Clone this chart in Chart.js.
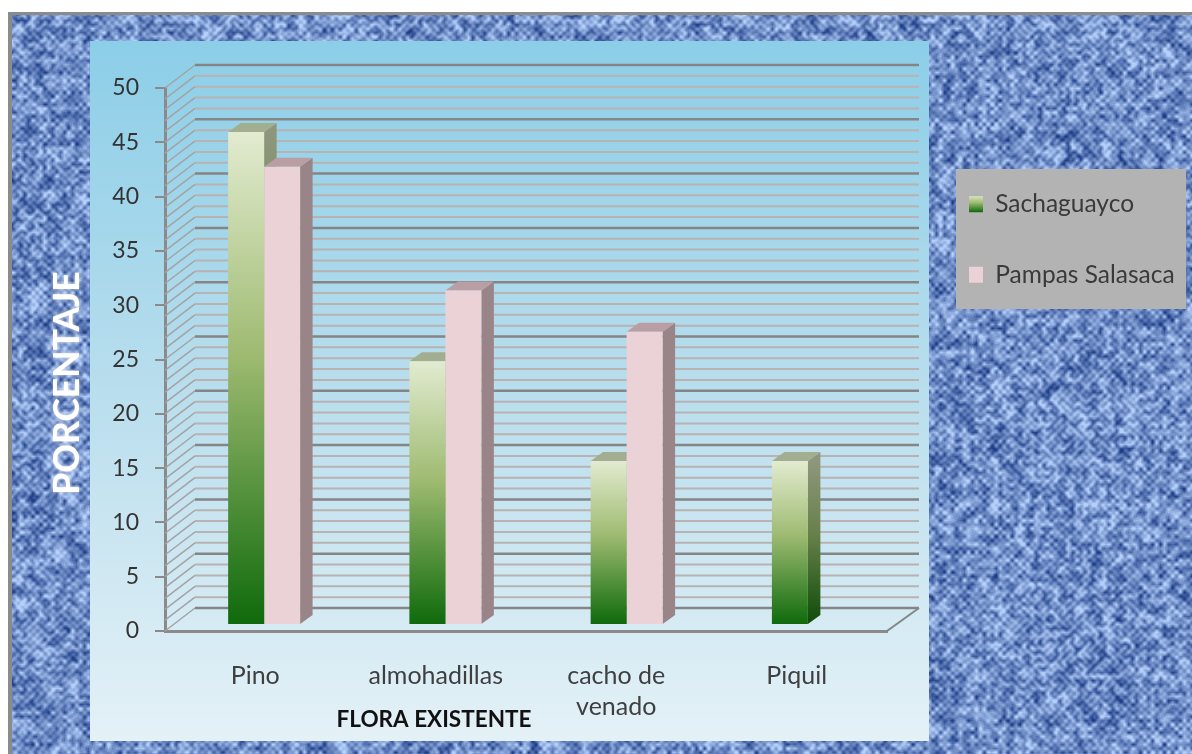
<!DOCTYPE html>
<html>
<head>
<meta charset="utf-8">
<title>Flora existente</title>
<script src="https://cdn.jsdelivr.net/npm/chart.js@4"></script>
<style>
  html, body { margin: 0; padding: 0; background: #fff; }
  canvas { display: block; }
</style>
</head>
<body>
<canvas id="chart" width="1192" height="754"></canvas>
<script>
const categories = ["Pino", "almohadillas", ["cacho de", "venado"], "Piquil"];
const sachaguayco = [45.3, 24.2, 15.0, 15.0];
const pampasSalasaca = [42.1, 30.7, 26.9, 0];
const yTicksStep = 5;

const FONT = "Lato";

// tela azul de fondo, ruido fijo (sin Math.random)
function hash(x, y) {
  const s = Math.sin(x * 127.1 + y * 311.7) * 43758.5453;
  return s - Math.floor(s);
}
function smooth(x, y, cell) {
  const fx = x / cell, fy = y / cell;
  const ix = Math.floor(fx), iy = Math.floor(fy);
  const tx = fx - ix, ty = fy - iy;
  const a = hash(ix, iy), b = hash(ix + 1, iy);
  const c = hash(ix, iy + 1), d = hash(ix + 1, iy + 1);
  return (a * (1 - tx) + b * tx) * (1 - ty) + (c * (1 - tx) + d * tx) * ty;
}
function makeTexture(w, h) {
  const off = document.createElement("canvas");
  off.width = w;
  off.height = h;
  const c = off.getContext("2d");
  const img = c.createImageData(w, h);
  for (let y = 0; y < h; y++) {
    for (let x = 0; x < w; x++) {
      const weave = Math.sin(x * 0.8) * Math.sin(y * 0.8) * 0.16;
      const spot = Math.pow(Math.max(0, Math.sin(x * 0.15) * Math.sin(y * 0.15)), 6) * 0.18;
      let n = 0.56 + (smooth(x, y, 4) - 0.5) * 0.85 + (smooth(x + 50, y + 90, 9) - 0.5) * 0.35 + weave - spot;
      n = Math.max(0, Math.min(1, n));
      const i = (y * w + x) * 4;
      img.data[i] = 30 + n * 150;
      img.data[i + 1] = 62 + n * 145;
      img.data[i + 2] = 135 + n * 115;
      img.data[i + 3] = 255;
    }
  }
  c.putImageData(img, 0, 0);
  return off;
}
const texture = makeTexture(1192, 754);

// planos del grafico en 3D
const DEPTH_X = 30, DEPTH_Y = 23;   // pared del fondo
const BAR_DX = 12.5, BAR_DY = 9;    // profundidad de cada barra
const BAR_SHIFT_X = 8.5, BAR_SHIFT_Y = 7;

function greenGradient(ctx, top, bottom) {
  const g = ctx.createLinearGradient(0, top, 0, bottom);
  g.addColorStop(0, "#e2ebd0");
  g.addColorStop(0.45, "#9fbb72");
  g.addColorStop(1, "#0f6a0c");
  return g;
}

const scene = {
  id: "scene",
  beforeLayout(chart) {
    const legend = chart.legend;
    if (legend.fit.patched) return;
    const fit = legend.fit;
    legend.fit = function () {
      fit.call(this);
      this.width = 305;
    };
    legend.fit.patched = true;
  },
  afterLayout(chart) {
    // las barras quedan a media profundidad, no en el plano del eje
    const xb = chart.scales.xBars, yb = chart.scales.yBars;
    xb.left += BAR_SHIFT_X;
    xb.right += BAR_SHIFT_X + 3;
    xb.configure();
    yb.top -= BAR_SHIFT_Y;
    yb.bottom -= BAR_SHIFT_Y;
    yb.configure();
    const pad = chart.legend.options.labels.padding;
    chart.legend.left = 969 - pad;
    chart.legend.top = 195 - pad - 3;
    chart.legend.right = 1186;
  },
  beforeDraw(chart) {
    const c = chart.ctx;
    c.save();
    c.fillStyle = "#fff";
    c.fillRect(0, 0, 1192, 754);
    c.fillStyle = "#8b8b8b";
    c.fillRect(8, 12, 1184, 742);
    c.drawImage(texture, 12, 15, 1180, 739, 12, 15, 1180, 739);
    const g = c.createLinearGradient(0, 41, 0, 741);
    g.addColorStop(0, "#8ccee8");
    g.addColorStop(0.5, "#b9deed");
    g.addColorStop(1, "#e4f1f7");
    c.fillStyle = g;
    c.fillRect(90, 41, 839, 700);
    c.fillStyle = "#b3b3b3";
    c.fillRect(956, 169, 230, 140);
    c.restore();
  },
  beforeDatasetsDraw(chart) {
    const c = chart.ctx;
    const { x, y } = chart.scales;
    const x0 = x.left, x1 = x.right;
    c.save();
    // lineas de la pared izquierda y del fondo, tomadas de la escala
    for (let v = y.max; v >= y.min; v--) {
      const py = y.getPixelForValue(v);
      const major = v % yTicksStep === 0;
      c.beginPath();
      c.moveTo(x0, py);
      c.lineTo(x0 + DEPTH_X, py - DEPTH_Y);
      c.strokeStyle = "#a3a3a3";
      c.lineWidth = 1.5;
      c.stroke();
      c.beginPath();
      c.moveTo(x0 + DEPTH_X, py - DEPTH_Y);
      c.lineTo(x1 + DEPTH_X + 2, py - DEPTH_Y);
      c.strokeStyle = major ? "#858585" : "#b8b2b0";
      c.lineWidth = major ? 2.5 : 2;
      c.stroke();
    }
    // piso
    const p0 = y.getPixelForValue(0);
    c.beginPath();
    c.moveTo(x1, p0);
    c.lineTo(x1 + DEPTH_X + 2, p0 - DEPTH_Y);
    c.strokeStyle = "#858585";
    c.lineWidth = 2;
    c.stroke();

    // caras laterales y superiores de las barras
    chart.data.datasets.forEach((ds, di) => {
      chart.getDatasetMeta(di).data.forEach((bar, i) => {
        if (!ds.data[i]) return;
        const { x: cx, y: top, base, width } = bar.getProps(["x", "y", "base", "width"], true);
        const r = cx + width / 2, l = cx - width / 2;
        let side = ds.sideColor;
        if (di === 0) {
          side = c.createLinearGradient(0, top, 0, base);
          side.addColorStop(0, "#8e977d");
          side.addColorStop(0.45, "#67804a");
          side.addColorStop(1, "#0e4c09");
        }
        c.fillStyle = side;
        c.beginPath();
        c.moveTo(r, top);
        c.lineTo(r + BAR_DX, top - BAR_DY);
        c.lineTo(r + BAR_DX, base - BAR_DY);
        c.lineTo(r, base);
        c.closePath();
        c.fill();
        c.fillStyle = ds.topColor;
        c.beginPath();
        c.moveTo(l, top);
        c.lineTo(l + BAR_DX, top - BAR_DY);
        c.lineTo(r + BAR_DX, top - BAR_DY);
        c.lineTo(r, top);
        c.closePath();
        c.fill();
      });
    });
    c.restore();
  },
  afterDraw(chart) {
    const c = chart.ctx;
    c.save();
    c.textAlign = "center";
    c.textBaseline = "middle";
    c.fillStyle = "#111";
    c.font = "bold 22.5px " + FONT;
    c.fillText("FLORA EXISTENTE", 434, 720);
    c.translate(68, 383);
    c.rotate(-Math.PI / 2);
    c.font = "bold 35.5px " + FONT;
    c.shadowColor = "rgba(255,255,255,0.8)";
    c.shadowBlur = 4;
    c.fillStyle = "#fff";
    c.fillText("PORCENTAJE", 0, 0);
    c.restore();
  }
};

const ctx = document.getElementById("chart").getContext("2d");

new Chart(ctx, {
  type: "bar",
  data: {
    labels: categories,
    datasets: [
      {
        label: "Sachaguayco",
        data: sachaguayco,
        xAxisID: "xBars",
        yAxisID: "yBars",
        topColor: "#a3ad90",
        backgroundColor(context) {
          if (context.dataIndex === undefined) return "#5d9a45";
          const s = context.chart.scales.yBars;
          return greenGradient(context.chart.ctx, s.getPixelForValue(sachaguayco[context.dataIndex]), s.getPixelForValue(0));
        }
      },
      {
        label: "Pampas Salasaca",
        data: pampasSalasaca,
        xAxisID: "xBars",
        yAxisID: "yBars",
        backgroundColor: "#ebd2d7",
        sideColor: "#998587",
        topColor: "#b99fa3"
      }
    ]
  },
  options: {
    responsive: false,
    animation: false,
    layout: { padding: { left: 65, top: 88, right: 0, bottom: 13 } },
    datasets: { bar: { categoryPercentage: 0.397, barPercentage: 1 } },
    plugins: {
      tooltip: { enabled: false },
      legend: {
        position: "right",
        align: "start",
        labels: {
          boxWidth: 14,
          boxHeight: 16,
          padding: 46,
          color: "#3a3a3a",
          font: { family: FONT, size: 24.5 },
          generateLabels(chart) {
            return chart.data.datasets.map((ds, i) => ({
              text: ds.label,
              datasetIndex: i,
              fontColor: "#3a3a3a",
              lineWidth: 0,
              strokeStyle: "transparent",
              fillStyle: i === 0 ? greenGradient(chart.ctx, 195, 212) : ds.backgroundColor
            }));
          }
        }
      }
    },
    scales: {
      x: {
        type: "category",
        offset: true,
        afterFit(scale) { scale.height = 110; },
        grid: { display: false },
        border: { color: "#8a8a8a", width: 3 },
        ticks: {
          padding: 21,
          maxRotation: 0,
          autoSkip: false,
          color: "#3f3f3f",
          font: { family: FONT, size: 25, lineHeight: 1.25 }
        }
      },
      y: {
        type: "linear",
        min: 0,
        max: 50,
        afterFit(scale) { scale.width = 100; },
        grid: { drawOnChartArea: false, color: "#8a8a8a", lineWidth: 2, tickLength: 10 },
        border: { color: "#8a8a8a", width: 3 },
        ticks: {
          stepSize: yTicksStep,
          padding: 16,
          color: "#333",
          font: { family: FONT, size: 23 }
        }
      },
      xBars: { type: "category", display: false, offset: true, grid: { display: false } },
      yBars: { type: "linear", display: false, min: 0, max: 50, grid: { display: false } }
    }
  },
  plugins: [scene]
});
</script>
</body>
</html>
